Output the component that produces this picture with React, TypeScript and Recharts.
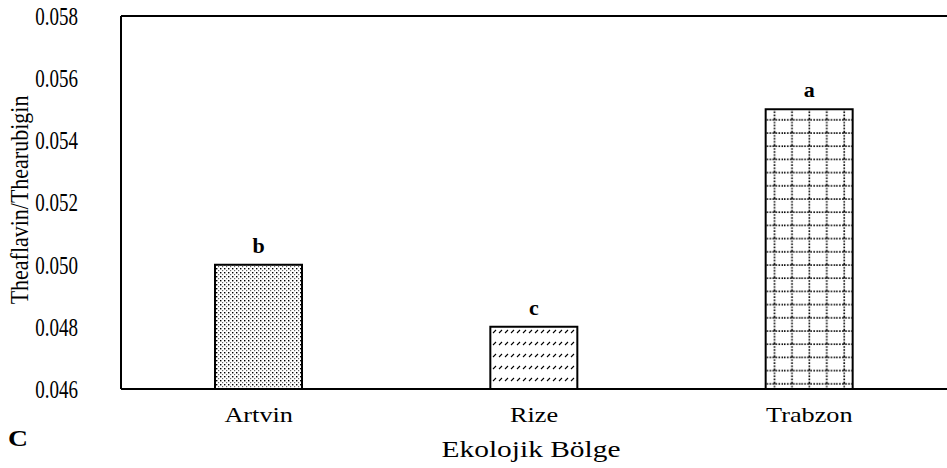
import React from 'react';
import { BarChart, Bar, XAxis, YAxis, Cell, LabelList, ReferenceLine } from 'recharts';

const regions = ['Artvin', 'Rize', 'Trabzon'];
const ratios = [0.05, 0.048, 0.055];
const letters = ['b', 'c', 'a'];
const yTicks = [0.046, 0.048, 0.05, 0.052, 0.054, 0.056, 0.058];
const patternIds = ['patDots', 'patDash', 'patGrid'];

const data = regions.map((r, i) => ({ region: r, value: ratios[i], letter: letters[i] }));

const FONT = 'Liberation Serif, Times New Roman, serif';

const YTick = (props: any) => {
  const { x, y, payload } = props;
  return (
    <g transform={`translate(${x},${y})`}>
      <text x={0} y={0} dy="0.36em" textAnchor="end" fill="#000" fontSize={19} fontFamily={FONT} transform="scale(1,1.3)">
        {Number(payload.value).toFixed(3)}
      </text>
    </g>
  );
};

const XTick = (props: any) => {
  const { x, y, payload } = props;
  return (
    <g transform={`translate(${x},${y})`}>
      <text x={0} y={0} dy="0.71em" textAnchor="middle" fill="#000" fontSize={21} fontFamily={FONT} transform="scale(1.25,1)">
        {payload.value}
      </text>
    </g>
  );
};

const LetterLabel = (props: any) => {
  const { x, y, width, value } = props;
  return (
    <text x={x + width / 2} y={y - 12} textAnchor="middle" fill="#000" fontSize={22} fontWeight="bold" fontFamily={FONT}>
      {value}
    </text>
  );
};

export default function App() {
  return (
    <div style={{ position: 'absolute', left: 0, top: 0, width: 947, height: 468, background: '#fff' }}>
      <BarChart width={947} height={468} data={data} margin={{ top: 16, right: 0, left: 0, bottom: 0 }} barCategoryGap={0}>
        <defs>
          <pattern id="patDots" width="4" height="4" patternUnits="userSpaceOnUse">
            <rect width="4" height="4" fill="#fff" />
            <rect x="0" y="0" width="1.4" height="1.4" fill="#000" />
            <rect x="2" y="2" width="1.2" height="1.2" fill="#666" />
          </pattern>
          <pattern id="patDash" width="6" height="12" patternUnits="userSpaceOnUse">
            <rect width="6" height="12" fill="#fff" />
            <line x1="1" y1="9" x2="4" y2="6" stroke="#000" strokeWidth="1.1" />
          </pattern>
          <pattern id="patGrid" width="17.4" height="13.2" patternUnits="userSpaceOnUse" x="1">
            <rect width="17.4" height="13.2" fill="#fff" />
            <line x1="0" y1="1" x2="17.4" y2="1" stroke="#000" strokeWidth="1.6" strokeDasharray="1.5 1.5" />
            <line x1="8" y1="0" x2="8" y2="13.2" stroke="#000" strokeWidth="1.6" strokeDasharray="1.5 1.5" />
          </pattern>
        </defs>
        <XAxis
          dataKey="region"
          height={79}
          axisLine={{ stroke: '#000', strokeWidth: 2 }}
          tickLine={false}
          tickSize={0}
          tickMargin={18}
          tick={<XTick />}
        />
        <YAxis
          width={121}
          domain={[0.046, 0.058]}
          ticks={yTicks}
          interval={0}
          axisLine={{ stroke: '#000', strokeWidth: 2 }}
          tickLine={false}
          tickSize={0}
          tickMargin={43}
          tick={<YTick />}
        />
        <ReferenceLine y={0.058} stroke="#000" strokeWidth={2} />
        <Bar dataKey="value" barSize={87} stroke="#000" strokeWidth={2} isAnimationActive={false}>
          {data.map((d, i) => (
            <Cell key={d.region} fill={`url(#${patternIds[i]})`} />
          ))}
          <LabelList dataKey="letter" content={<LetterLabel />} />
        </Bar>
      </BarChart>
      <svg width={947} height={468} style={{ position: 'absolute', left: 0, top: 0, pointerEvents: 'none' }}>
        <text
          transform="translate(28,200) rotate(-90) scale(1,1.15)"
          textAnchor="middle"
          fill="#000"
          fontSize={22}
          fontFamily={FONT}
        >
          Theaflavin/Thearubigin
        </text>
        <text transform="translate(531,457) scale(1.28,1)" textAnchor="middle" fill="#000" fontSize={23} fontFamily={FONT}>
          Ekolojik Bölge
        </text>
        <text transform="translate(8,446) scale(1.15,1)" fill="#000" fontSize={24} fontWeight="bold" fontFamily={FONT}>
          C
        </text>
      </svg>
    </div>
  );
}
